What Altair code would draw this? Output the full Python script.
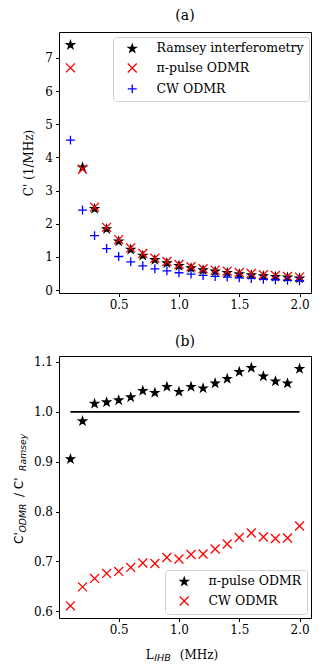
import math
import altair as alt
import pandas as pd

# ---------------- data ----------------
L = [0.1, 0.2, 0.3, 0.4, 0.5, 0.6, 0.7, 0.8, 0.9, 1.0,
     1.1, 1.2, 1.3, 1.4, 1.5, 1.6, 1.7, 1.8, 1.9, 2.0]
ramsey = [7.40, 3.71, 2.46, 1.85, 1.48, 1.23, 1.05, 0.92, 0.82, 0.74,
          0.67, 0.61, 0.57, 0.53, 0.49, 0.46, 0.43, 0.41, 0.39, 0.36]
pi_odmr = [6.70, 3.64, 2.50, 1.89, 1.52, 1.27, 1.10, 0.96, 0.86, 0.77,
           0.70, 0.64, 0.60, 0.57, 0.53, 0.50, 0.46, 0.44, 0.41, 0.39]
cw_odmr = [4.52, 2.41, 1.64, 1.25, 1.01, 0.85, 0.73, 0.64, 0.58, 0.52,
           0.48, 0.44, 0.41, 0.39, 0.37, 0.35, 0.32, 0.31, 0.29, 0.28]
ratio_pi = [0.906, 0.982, 1.017, 1.020, 1.024, 1.030, 1.043, 1.039, 1.051, 1.041,
            1.051, 1.048, 1.058, 1.067, 1.081, 1.089, 1.072, 1.062, 1.058, 1.087]
ratio_cw = [0.611, 0.649, 0.666, 0.676, 0.680, 0.688, 0.697, 0.696, 0.708, 0.705,
            0.714, 0.715, 0.725, 0.735, 0.748, 0.757, 0.749, 0.746, 0.747, 0.771]
series_a = ["Ramsey interferometry", "π-pulse ODMR", "CW ODMR"]
series_b = ["π-pulse ODMR", "CW ODMR"]
ref_level = [1.0]
ref_span = [0.1, 2.0]
x_ticks = [0.0, 0.5, 1.0, 1.5, 2.0]
ya_ticks = [0, 1, 2, 3, 4, 5, 6, 7]
yb_ticks = [0.6, 0.7, 0.8, 0.9, 1.0, 1.1]

FONT = "DejaVu Serif"
SANS = "DejaVu Sans"

# ---------------- marker shapes ----------------
pts = []
for k in range(10):
    r = 0.9 if k % 2 == 0 else 0.35
    a = math.radians(-90 + 36 * k)
    pts.append(f"{r*math.cos(a):.3f},{r*math.sin(a)+0.08:.3f}")
STAR = "M" + "L".join(pts) + "Z"
XMARK = "M-1,-1L1,1M-1,1L1,-1"
PLUS = "M-1,0L1,0M0,-1L0,1"

W, HA, HB = 252, 261, 262

df_a = pd.DataFrame({
    "L": L * 3,
    "value": ramsey + pi_odmr + cw_odmr,
    "series": [series_a[0]] * len(L) + [series_a[1]] * len(L) + [series_a[2]] * len(L),
})
df_b = pd.DataFrame({
    "L": L * 2,
    "value": ratio_pi + ratio_cw,
    "series": [series_b[0]] * len(L) + [series_b[1]] * len(L),
})
df_rule = pd.DataFrame({"x": [ref_span[0]], "x2": [ref_span[1]], "y": ref_level})

xscale = alt.Scale(domain=[0.005, 2.095], nice=False, zero=False)
xaxis = alt.Axis(values=x_ticks, format=".1f", title=None)


def legend(x, y):
    return alt.Legend(
        title=None, orient="none", legendX=x, legendY=y,
        fillColor="white", strokeColor="#d0d0d0", cornerRadius=3,
        padding=5, rowPadding=5.8, labelFontSize=12.5, labelFont=FONT,
        labelColor="black", symbolSize=80, symbolStrokeWidth=1.3,
        symbolOffset=8, labelOffset=18,
    )


def enc_series(domain, colors, shapes, lg):
    return dict(
        fill=alt.Fill("series:N", scale=alt.Scale(domain=domain, range=colors), legend=lg),
        stroke=alt.Stroke("series:N", scale=alt.Scale(domain=domain, range=colors), legend=lg),
        shape=alt.Shape("series:N", scale=alt.Scale(domain=domain, range=shapes), legend=lg),
    )


top = alt.Chart(df_a).mark_point(filled=True, opacity=1, strokeWidth=1.3, size=80).encode(
    x=alt.X("L:Q", scale=xscale, axis=xaxis),
    y=alt.Y("value:Q", scale=alt.Scale(domain=[-0.09, 7.78], nice=False, zero=False),
            axis=alt.Axis(values=ya_ticks, format="d", title="C' (1/MHz)", titlePadding=9)),
    **enc_series(series_a, ["black", "red", "blue"], [STAR, XMARK, PLUS], legend(54, 5)),
).properties(width=W, height=HA, title=alt.TitleParams("(a)", fontSize=14, offset=9))

yb = alt.Y("value:Q", scale=alt.Scale(domain=[0.5866, 1.112], nice=False, zero=False),
           axis=alt.Axis(values=yb_ticks, format=".1f", title=None))

pts_b = alt.Chart(df_b).mark_point(filled=True, opacity=1, strokeWidth=1.3, size=80).encode(
    x=alt.X("L:Q", scale=xscale, axis=xaxis),
    y=yb,
    **enc_series(series_b, ["black", "red"], [STAR, XMARK], legend(106, 214)),
)

rule_b = alt.Chart(df_rule).mark_rule(color="black", strokeWidth=1.6).encode(
    x=alt.X("x:Q", scale=xscale, axis=xaxis), x2="x2:Q", y=alt.Y("y:Q")
)


# axis titles with subscripts (text annotations)
def txt(text, x, y, size=12, italic=False, angle=0, font=FONT):
    return alt.Chart(pd.DataFrame({"t": [text]})).mark_text(
        font=font, fontSize=size, fontStyle="italic" if italic else "normal",
        align="left", baseline="alphabetic", angle=angle, color="black",
    ).encode(text="t:N", x=alt.value(x), y=alt.value(y))


ytitle = [
    txt("C'", -36, 188, angle=270, font=SANS),
    txt("ODMR", -33.5, 176.5, size=9.3, italic=True, angle=270, font=SANS),
    txt("/ C'", -36, 141, angle=270, font=SANS),
    txt("Ramsey", -33.5, 115, size=9.3, italic=True, angle=270, font=SANS),
]
xtitle = [
    txt("L", 86.7, 303),
    txt("IHB", 95.3, 305, size=9.5, italic=True, font=SANS),
    txt("(MHz)", 120.7, 303),
]

bottom = alt.layer(rule_b, pts_b, *ytitle, *xtitle).properties(
    width=W, height=HB, title=alt.TitleParams("(b)", fontSize=14, offset=7)
)

chart = alt.vconcat(top, bottom, spacing=23).resolve_scale(
    fill="independent", stroke="independent", shape="independent"
).resolve_legend(fill="independent", stroke="independent", shape="independent").configure(
    font=FONT, padding={"left": 4, "top": 0, "right": 5, "bottom": 0}
).configure_view(stroke="black", strokeWidth=1).configure_axis(
    grid=False, domain=False, tickColor="black", tickSize=3.5, tickWidth=1,
    labelColor="black", labelFontSize=12, labelFont=FONT, labelPadding=3,
    titleFont=FONT, titleFontSize=12, titleFontWeight="normal", titleColor="black",
).configure_title(font=FONT, fontSize=14, fontWeight="normal", color="black")

chart.save("out.html", embed_options={"renderer": "svg", "actions": False})
